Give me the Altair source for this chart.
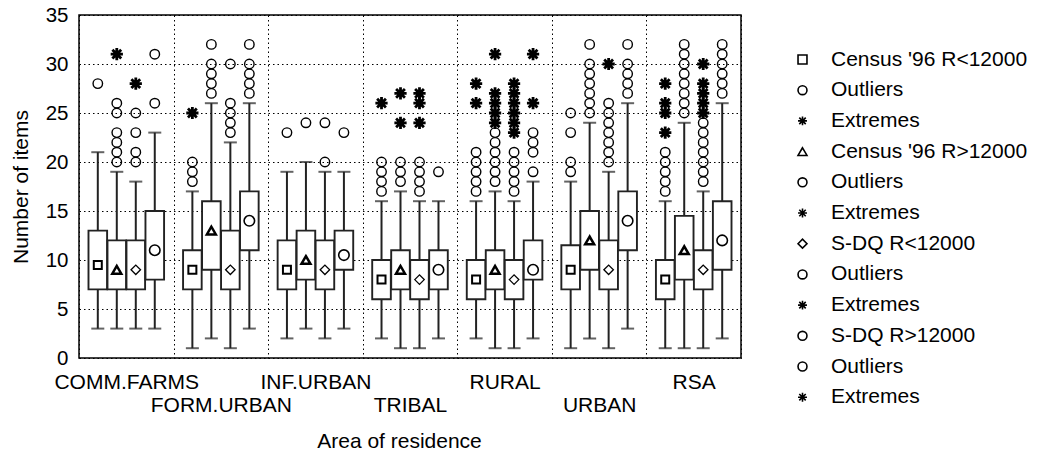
import json
import altair as alt
import pandas as pd

AREAS = ["COMM.FARMS", "FORM.URBAN", "INF.URBAN", "TRIBAL", "RURAL", "URBAN", "RSA"]
SERIES = ["Census '96 R<12000", "Census '96 R>12000", "S-DQ R<12000", "S-DQ R>12000"]

# one value per area, per series (order of SERIES)
WHISK_LO = [
    [3, 1, 2, 2, 2, 1, 1],
    [3, 2, 3, 1, 1, 2, 1],
    [3, 1, 2, 1, 1, 1, 1],
    [3, 3, 3, 2, 2, 3, 2],
]
Q1 = [
    [7, 7, 7, 6, 6, 7, 6],
    [7, 9, 8, 7, 7, 9, 8],
    [7, 7, 7, 6, 6, 7, 7],
    [8, 11, 9, 7, 8, 11, 9],
]
MEDIAN = [
    [9.5, 9, 9, 8, 8, 9, 8],
    [9, 13, 10, 9, 9, 12, 11],
    [9, 9, 9, 8, 8, 9, 9],
    [11, 14, 10.5, 9, 9, 14, 12],
]
Q3 = [
    [13, 11, 12, 10, 10, 11.5, 10],
    [12, 16, 13, 11, 11, 15, 14.5],
    [12, 13, 12, 10, 10, 12, 11],
    [15, 17, 13, 11, 12, 17, 16],
]
WHISK_HI = [
    [21, 17, 19, 16, 16, 18, 16],
    [19, 26, 20, 17, 17, 24, 24],
    [18, 22, 19, 16, 16, 19, 17],
    [23, 26, 19, 16, 18, 26, 26],
]
OUTLIERS = [
    [[28], [18, 19, 20], [23], [17, 18, 19, 20], [17, 18, 19, 20, 21], [19, 20, 23, 25], [17, 18, 19, 20, 21]],
    [[20, 21, 22, 23, 25, 26], [27, 28, 29, 30, 32], [24], [18, 19, 20], [18, 19, 20, 21, 22, 23],
     [25, 26, 27, 28, 29, 30, 32], [25, 26, 27, 28, 29, 30, 31, 32]],
    [[20, 21, 23, 25], [23, 24, 25, 26, 30], [20, 24], [17, 18, 19, 20], [17, 18, 19, 20, 21],
     [20, 21, 22, 23, 24, 25, 26], [18, 19, 20, 21, 22, 23, 24]],
    [[26, 31], [27, 28, 29, 30, 32], [23], [19], [19, 21, 22, 23], [27, 28, 29, 30, 32], [27, 28, 29, 30, 31, 32]],
]
EXTREMES = [
    [[], [25], [], [26], [26, 28], [], [23, 25, 26, 28]],
    [[31], [], [], [24, 27], [24, 25, 26, 27, 31], [], []],
    [[28], [], [], [24, 26, 27], [23, 24, 25, 26, 27, 28], [30], [25, 26, 27, 28, 30]],
    [[], [], [], [], [26, 31], [], []],
]

MEDIAN_SHAPES = ["square", "triangle-up", "diamond", "circle"]
MEDIAN_SIZES = [64, 80, 90, 110]
MEDIAN_STROKES = [2, 2.5, 1.3, 1.6]
ASTER = "M-1,0L1,0M0,-1L0,1M-0.72,-0.72L0.72,0.72M-0.72,0.72L0.72,-0.72"

FONT = "Liberation Sans"
FS = 21

keys, shapes = [], []
for i, s in enumerate(SERIES):
    keys += [s, "Outliers %d" % (i + 1), "Extremes %d" % (i + 1)]
    shapes += [MEDIAN_SHAPES[i], "circle", ASTER]

box_rows, pt_rows = [], []
for i, s in enumerate(SERIES):
    for j, a in enumerate(AREAS):
        box_rows.append(dict(area=a, series=s, lo=WHISK_LO[i][j], q1=Q1[i][j], med=MEDIAN[i][j],
                             q3=Q3[i][j], hi=WHISK_HI[i][j], key=s,
                             msz=MEDIAN_SIZES[i], msw=MEDIAN_STROKES[i]))
        for v in OUTLIERS[i][j]:
            pt_rows.append(dict(area=a, series=s, value=v, key="Outliers %d" % (i + 1), kind="o"))
        for v in EXTREMES[i][j]:
            pt_rows.append(dict(area=a, series=s, value=v, key="Extremes %d" % (i + 1), kind="e"))

boxes = pd.DataFrame(box_rows)
pts = pd.DataFrame(pt_rows)

areas_js = json.dumps(AREAS)
x_enc = alt.X(
    "area:N",
    sort=AREAS,
    scale=alt.Scale(domain=AREAS, paddingInner=0, paddingOuter=0),
    axis=alt.Axis(
        title="Area of residence",
        labelAngle=0,
        labelExpr="(indexof(%s, datum.value) %% 2 == 1) ? ['', datum.label] : datum.label" % areas_js,
        labelBaseline="top",
        labelLineHeight=23.4,
        labelPadding=13.5,
        labelFontSize=FS,
        labelLimit=300,
        ticks=False,
        domain=False,
        grid=True,
        tickBand="extent",
        titleFontSize=FS,
        titleFontWeight="normal",
        titleX=320,
        titleY=89.5,
        titleBaseline="alphabetic",
        titleAlign="center",
    ),
)
xo_enc = alt.XOffset("series:N", sort=SERIES,
                     scale=alt.Scale(domain=SERIES, paddingInner=0.02, paddingOuter=0.5))
y_scale = alt.Scale(domain=[0, 35], nice=False)
y_axis = alt.Axis(
    title="Number of items",
    values=[0, 5, 10, 15, 20, 25, 30, 35],
    ticks=False,
    domain=False,
    grid=True,
    labelFontSize=20.5,
    labelPadding=11,
    titleFontSize=FS,
    titleFontWeight="normal",
    titleX=-51.5,
    titleY=171.5,
    titleAngle=-90,
    titleBaseline="alphabetic",
    titleAlign="center",
)

legend = alt.Legend(
    title=None,
    orient="none",
    legendX=713,
    legendY=34,
    labelExpr="indexof(datum.label, 'Outliers') == 0 ? 'Outliers' : (indexof(datum.label, 'Extremes') == 0 ? 'Extremes' : datum.label)",
    labelFontSize=FS,
    labelOffset=18,
    labelLimit=300,
    symbolSize=80,
    symbolStrokeWidth=1.6,
    symbolStrokeColor="black",
    symbolFillColor="transparent",
    rowPadding=8.7,
    padding=0,
)
shape_enc = alt.Shape("key:N", scale=alt.Scale(domain=keys, range=shapes), legend=legend)

base_b = alt.Chart(boxes)
base_p = alt.Chart(pts)

whisk = base_b.mark_rule(color="#222", strokeWidth=2).encode(
    x=x_enc, xOffset=xo_enc,
    y=alt.Y("lo:Q", scale=y_scale, axis=y_axis), y2="hi:Q")
box = base_b.mark_bar(fill="white", stroke="#222", strokeWidth=1.9).encode(
    x=x_enc, xOffset=xo_enc, y=alt.Y("q1:Q", scale=y_scale), y2="q3:Q")
cap_lo = base_b.mark_tick(color="#222", size=13, thickness=2).encode(
    x=x_enc, xOffset=xo_enc, y=alt.Y("lo:Q", scale=y_scale))
cap_hi = base_b.mark_tick(color="#222", size=13, thickness=2).encode(
    x=x_enc, xOffset=xo_enc, y=alt.Y("hi:Q", scale=y_scale))
meds = base_b.mark_point(color="black", filled=False, opacity=1).encode(
    x=x_enc, xOffset=xo_enc, y=alt.Y("med:Q", scale=y_scale),
    shape=shape_enc,
    size=alt.Size("msz:Q", scale=None),
    strokeWidth=alt.StrokeWidth("msw:Q", scale=None))
outl = base_p.transform_filter("datum.kind == 'o'").mark_point(
    color="black", filled=False, opacity=1, size=90, strokeWidth=1.4).encode(
    x=x_enc, xOffset=xo_enc, y=alt.Y("value:Q", scale=y_scale), shape=shape_enc)
extr = base_p.transform_filter("datum.kind == 'e'").mark_point(
    color="black", filled=False, opacity=1, size=150, strokeWidth=2.8).encode(
    x=x_enc, xOffset=xo_enc, y=alt.Y("value:Q", scale=y_scale), shape=shape_enc)

chart = alt.layer(whisk, box, cap_lo, cap_hi, meds, outl, extr).properties(
    width=662, height=343,
    autosize=alt.AutoSizeParams(type="none"),
    padding={"left": 71, "top": 7, "right": 290, "bottom": 95},
).configure(
    font=FONT,
).configure_axis(
    labelFont=FONT, titleFont=FONT, labelColor="black", titleColor="black",
    gridColor="black", gridDash=[1.5, 3], gridWidth=1, gridOpacity=1,
).configure_legend(
    labelFont=FONT, labelColor="black",
).configure_view(
    stroke="black", strokeWidth=1.5,
)

chart.save("out.html", embed_options={"renderer": "svg", "actions": False})
